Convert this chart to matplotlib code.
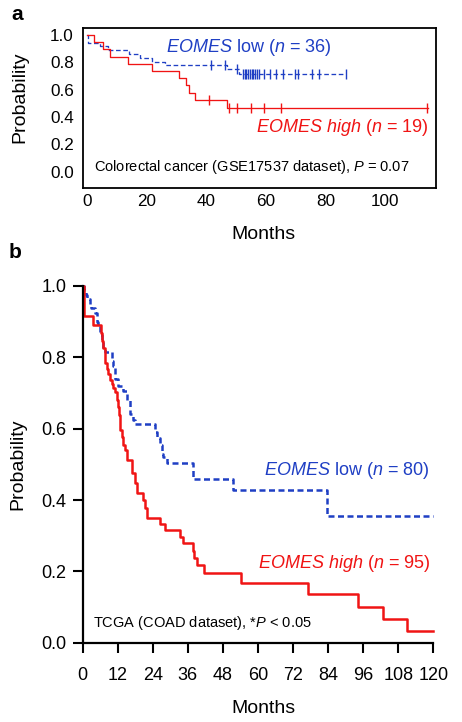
import numpy as np
import matplotlib
matplotlib.use("Agg")
import matplotlib.pyplot as plt

plt.rcParams['font.family'] = ['Liberation Sans', 'DejaVu Sans']
plt.rcParams['mathtext.fontset'] = 'custom'
plt.rcParams['mathtext.rm'] = 'Liberation Sans'
plt.rcParams['mathtext.it'] = 'Liberation Sans:italic'

blue = '#1f3fc4'
red = '#f01414'

## panel a: GSE17537 (months, survival)
low_a_t = [0, 0.3, 4.4, 7.1, 13.9, 17.8, 21.7, 26.2, 47.0, 51.0]
low_a_s = [1.0, 0.944, 0.917, 0.889, 0.861, 0.833, 0.806, 0.778, 0.748, 0.717]
low_a_end = 86.8
low_a_cens = [41.6, 46.3, 50.3, 52.2, 52.8, 53.4, 54.0, 54.6, 55.2, 55.8, 56.4,
              57.0, 57.8, 59.2, 61.5, 63.5, 65.8, 69.6, 70.6, 75.6, 77.8, 86.8]

high_a_t = [0, 2.3, 5.3, 7.7, 13.6, 21.7, 30.9, 33.2, 34.0, 36.2, 46.9]
high_a_s = [1.0, 0.947, 0.895, 0.842, 0.789, 0.737, 0.684, 0.632, 0.579, 0.526, 0.468]
high_a_end = 114.5
high_a_cens = [41.0, 47.7, 50.3, 55.0, 59.4, 65.1, 114.0]

## panel b: TCGA COAD
low_b_t = [0, 0.5, 1.0, 1.5, 2.5, 3.0, 4.2, 4.8, 5.3, 5.8, 6.5, 7.0, 7.6, 9.9, 10.5,
           11.1, 12.2, 13.9, 15.1, 16.2, 17.3, 17.9, 24.7, 25.5, 26.5, 27.0, 27.6,
           28.7, 37.6, 51.5, 83.5]
low_b_s = [1.0, 0.988, 0.975, 0.963, 0.95, 0.938, 0.925, 0.9, 0.888, 0.863, 0.85,
           0.825, 0.816, 0.79, 0.775, 0.74, 0.72, 0.706, 0.68, 0.64, 0.625, 0.612,
           0.59, 0.575, 0.555, 0.53, 0.52, 0.505, 0.46, 0.428, 0.356]
low_b_end = 120

high_b_t = [0, 0.3, 0.6, 3.4, 6.3, 6.6, 7.0, 7.6, 8.2, 8.8, 9.4, 9.9, 10.5, 11.1,
            11.6, 12.0, 12.3, 12.6, 12.9, 13.3, 13.9, 14.5, 15.1, 16.8, 17.9, 18.5,
            20.7, 21.3, 21.9, 26.5, 28.2, 33.3, 34.4, 37.6, 38.2, 39.0, 41.6, 54.2,
            77.0, 94.3, 102.9, 110.9]
high_b_s = [1.0, 0.958, 0.916, 0.89, 0.868, 0.847, 0.825, 0.783, 0.768, 0.752,
            0.736, 0.725, 0.714, 0.703, 0.681, 0.66, 0.639, 0.618, 0.597, 0.576,
            0.555, 0.54, 0.512, 0.475, 0.447, 0.419, 0.40, 0.377, 0.349, 0.333,
            0.316, 0.297, 0.279, 0.256, 0.237, 0.218, 0.195, 0.166, 0.136, 0.101,
            0.066, 0.034]
high_b_end = 120

xticks_a = [0, 20, 40, 60, 80, 100]
xticks_b = [0, 12, 24, 36, 48, 60, 72, 84, 96, 108, 120]
yticks = [0.0, 0.2, 0.4, 0.6, 0.8, 1.0]


def km(ax, t, s, t_end, **kw):
    tt = list(t) + [t_end]
    ss = list(s) + [s[-1]]
    ax.step(tt, ss, where='post', clip_on=False, **kw)


def surv_at(t, s, x):
    idx = np.searchsorted(t, x, side='right') - 1
    return np.array(s)[idx]


fig = plt.figure(figsize=(4.62, 7.22), dpi=100)

# ---- panel a
ax1 = fig.add_axes([83/462, 1 - 188/722, 353/462, 160/722])
km(ax1, low_a_t, low_a_s, low_a_end, color=blue, lw=0.95, linestyle=(0, (3.5, 2)))
km(ax1, high_a_t, high_a_s, high_a_end, color=red, lw=0.95)
ax1.plot(low_a_cens, surv_at(low_a_t, low_a_s, low_a_cens), ls='none', marker='|',
         ms=7, mew=1.0, color=blue)
ax1.plot(high_a_cens, surv_at(high_a_t, high_a_s, high_a_cens), ls='none', marker='|',
         ms=7, mew=1.0, color=red)
ax1.set_xlim(-1.45, 117.1)
ax1.set_ylim(-0.119, 1.051)
ax1.set_xticks(xticks_a)
ax1.set_yticks(yticks)
ax1.set_yticklabels(['%.1f' % v for v in yticks])
ax1.tick_params(length=0, labelsize=12.3)
ax1.tick_params(axis='y', pad=6.5)
ax1.tick_params(axis='x', pad=4.5)
for sp in ax1.spines.values():
    sp.set_linewidth(1.3)
ax1.set_xlabel('Months', fontsize=14)
ax1.set_ylabel('Probability', fontsize=14)
ax1.xaxis.set_label_coords(0.51, -0.235)
ax1.yaxis.set_label_coords(-0.155, 0.57)
ax1.text(0.235, 0.877, r'$\it{EOMES}$ low ($\it{n}$ = 36)', color=blue, fontsize=13,
         transform=ax1.transAxes, ha='left', va='center')
ax1.text(0.98, 0.377, r'$\it{EOMES\ high}$ ($\it{n}$ = 19)', color=red, fontsize=13,
         transform=ax1.transAxes, ha='right', va='center')
ax1.text(0.031, 0.133, r'Colorectal cancer (GSE17537 dataset), $\it{P}$ = 0.07',
         fontsize=10.5, transform=ax1.transAxes, ha='left', va='center')

# ---- panel b
ax2 = fig.add_axes([82.7/462, 1 - 642.7/722, 350.6/462, 356.7/722])
km(ax2, low_b_t, low_b_s, low_b_end, color=blue, lw=1.8, linestyle=(0, (2.4, 1.4)))
km(ax2, high_b_t, high_b_s, high_b_end, color=red, lw=1.8)
ax2.set_xlim(0, 120)
ax2.set_ylim(0, 1.0)
ax2.set_xticks(xticks_b)
ax2.set_yticks(yticks)
ax2.set_yticklabels(['%.1f' % v for v in yticks])
ax2.spines['top'].set_visible(False)
ax2.spines['right'].set_visible(False)
ax2.spines['left'].set_linewidth(1.6)
ax2.spines['bottom'].set_linewidth(1.6)
ax2.tick_params(length=7.5, width=1.5, labelsize=13)
ax2.tick_params(axis='x', pad=10)
ax2.tick_params(axis='y', pad=4)
ax2.set_xlabel('Months', fontsize=14)
ax2.set_ylabel('Probability', fontsize=14)
ax2.xaxis.set_label_coords(0.515, -0.16)
ax2.yaxis.set_label_coords(-0.16, 0.5)
ax2.text(0.9886, 0.484, r'$\it{EOMES}$ low ($\it{n}$ = 80)', color=blue, fontsize=13,
         transform=ax2.transAxes, ha='right', va='center')
ax2.text(0.9906, 0.2234, r'$\it{EOMES\ high}$ ($\it{n}$ = 95)', color=red, fontsize=13,
         transform=ax2.transAxes, ha='right', va='center')
ax2.text(0.0285, 0.054, r'TCGA (COAD dataset), *$\it{P}$ < 0.05', fontsize=10.5,
         transform=ax2.transAxes, ha='left', va='center')

fig.text(17/462, 1 - 14/722, 'a', fontsize=15, fontweight='bold', ha='center', va='center')
fig.text(15/462, 1 - 253/722, 'b', fontsize=15, fontweight='bold', ha='center', va='center')

fig.savefig('out.png', dpi=100)
